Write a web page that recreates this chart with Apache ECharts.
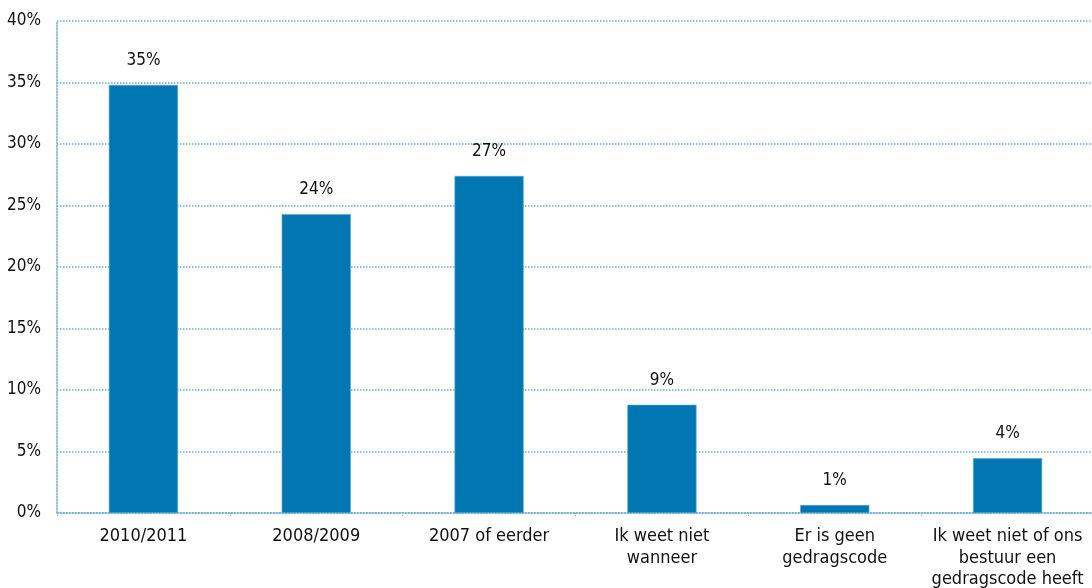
<!DOCTYPE html>
<html>
<head>
<meta charset="utf-8">
<script src="https://cdn.jsdelivr.net/npm/echarts@6/dist/echarts.min.js"></script>
<style>html,body{margin:0;padding:0;background:#fff;overflow:hidden}#c{width:1092px;height:588px}</style>
</head>
<body>
<div id="c"></div>
<script>
var categories = ["2010/2011", "2008/2009", "2007 of eerder", "Ik weet niet\nwanneer", "Er is geen\ngedragscode", "Ik weet niet of ons\nbestuur een\ngedragscode heeft"];
var values = [34.8, 24.3, 27.4, 8.8, 0.65, 4.45];
var yTicks = [0, 5, 10, 15, 20, 25, 30, 35, 40];

var font = "DejaVu Sans Condensed";
var chart = echarts.init(document.getElementById('c'));
chart.setOption({
  animation: false,
  grid: {left: 57, right: -2, top: 21, bottom: 75, containLabel: false, outerBoundsMode: 'none'},
  xAxis: {
    type: 'category',
    data: categories,
    axisLine: {show: true, lineStyle: {color: '#6fb0d6', type: 'dotted', width: 1.5}},
    axisTick: {show: true, length: 4, lineStyle: {color: '#6fb0d6', type: 'dotted'}},
    axisLabel: {color: '#111', fontFamily: font, fontSize: 18, lineHeight: 21.5, margin: 13, interval: 0}
  },
  yAxis: {
    type: 'value',
    min: yTicks[0], max: yTicks[yTicks.length - 1], interval: 5,
    axisLine: {show: true, lineStyle: {color: '#6fb0d6', type: 'dotted', width: 1.5}},
    axisTick: {show: false},
    splitLine: {show: true, lineStyle: {color: '#6fb0d6', type: 'dotted', width: 1.5}},
    axisLabel: {color: '#111', fontFamily: font, fontSize: 17, margin: 16, formatter: function (v) { return v + '%'; }}
  },
  series: [{
    type: 'bar',
    data: values,
    barWidth: '40%',
    itemStyle: {color: '#0077b3', borderColor: '#5aa6d3', borderWidth: 0.6},
    label: {show: true, position: 'top', distance: 16, color: '#111', fontFamily: font, fontSize: 17,
      formatter: function (p) { return Math.round(p.value) + '%'; }}
  }]
});
</script>
</body>
</html>
